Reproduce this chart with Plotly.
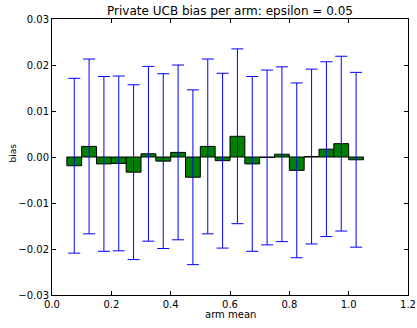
import plotly.graph_objects as go

arm_means = [0.05, 0.10, 0.15, 0.20, 0.25, 0.30, 0.35, 0.40, 0.45, 0.50,
             0.55, 0.60, 0.65, 0.70, 0.75, 0.80, 0.85, 0.90, 0.95, 1.00]
bias = [-0.0019, 0.0023, -0.0015, -0.0014, -0.0033, 0.0007, -0.0009, 0.0010, -0.0044, 0.0023,
        -0.0008, 0.0045, -0.0015, -0.0001, 0.0006, -0.0029, 0.0001, 0.0017, 0.0029, -0.0006]
bias_err = [0.0190, 0.0190, 0.0190, 0.0190, 0.0190, 0.0190, 0.0190, 0.0190, 0.0190, 0.0190,
            0.0190, 0.0190, 0.0190, 0.0190, 0.0190, 0.0190, 0.0190, 0.0190, 0.0190, 0.0190]
bar_width = 0.05
x_ticks = [0.0, 0.2, 0.4, 0.6, 0.8, 1.0, 1.2]
y_ticks = [-0.03, -0.02, -0.01, 0.0, 0.01, 0.02, 0.03]

W, H = 417, 328
centers = [m + bar_width / 2 for m in arm_means]

fig = go.Figure()
fig.add_trace(go.Bar(
    x=centers, y=bias, width=bar_width,
    marker=dict(color="#008000", line=dict(color="black", width=1)),
    error_y=dict(type="data", array=bias_err, visible=True,
                 color="#0000ff", thickness=1, width=6),
))

font = dict(family="DejaVu Sans", size=10, color="black")
axis_common = dict(
    showline=True, linecolor="black", linewidth=1, mirror="ticks",
    ticks="inside", ticklen=4, tickcolor="black", showgrid=False, zeroline=False,
    tickfont=font, automargin=False,
)
fig.update_xaxes(range=[0, 1.2], tickvals=x_ticks, tickformat=".1f", **axis_common)
fig.update_yaxes(range=[-0.03, 0.03], tickvals=y_ticks, tickformat=".2f", **axis_common)
fig.add_annotation(text="arm mean", xref="paper", yref="paper", showarrow=False,
                   x=0.5, y=(H - 33 - 314) / (H - 19 - 33), yanchor="middle", xanchor="center",
                   font=font)
fig.add_annotation(text="bias", xref="paper", yref="paper", showarrow=False, textangle=-90,
                   x=(12.5 - 52) / (W - 52 - 9), xanchor="center",
                   y=(H - 33 - 153) / (H - 19 - 33), yanchor="middle",
                   font=dict(family="DejaVu Sans", size=9, color="black"))
fig.update_layout(
    width=W, height=H,
    margin=dict(l=52, r=9, t=19, b=33),
    paper_bgcolor="white", plot_bgcolor="white",
    showlegend=False,
    title=dict(text="Private UCB bias per arm: epsilon = 0.05", x=230 / W, xanchor="center",
               y=1 - 11 / H, yanchor="middle",
               font=dict(family="DejaVu Sans", size=12, color="black")),
)
fig.write_html("out.html", post_script="document.body.style.margin='0';",
               config={"displayModeBar": False})
